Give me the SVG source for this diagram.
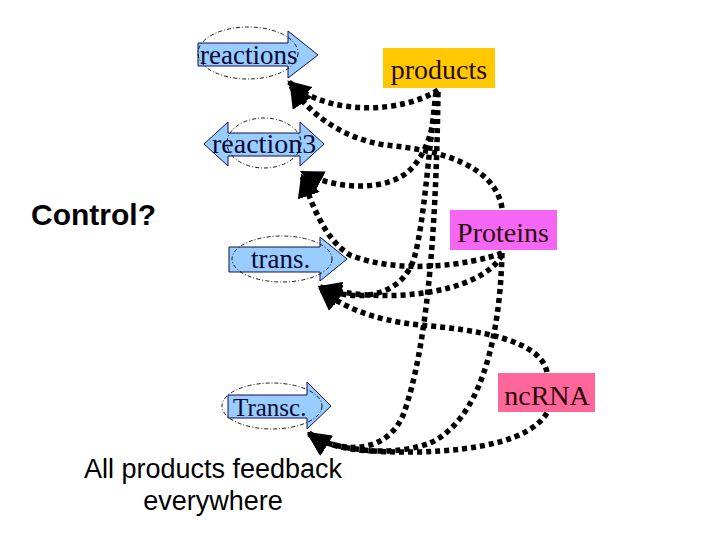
<svg xmlns="http://www.w3.org/2000/svg" width="720" height="540" viewBox="0 0 720 540">
<defs>
<style>
.blk{fill:#99CCFF;stroke:#10104a;stroke-width:1}
.ell{fill:none;stroke:#000;stroke-width:0.9;stroke-dasharray:4 2 1 2}
.lbl{font-family:"Liberation Serif",serif;fill:#0a0a30}
.box{font-family:"Liberation Serif",serif;font-size:28px;fill:#2a0a0a}
.sans{font-family:"Liberation Sans",Arial,sans-serif;fill:#000}
.con{fill:none;stroke:#000;stroke-width:5.5;stroke-dasharray:5 4}
</style>
<marker id="ah" viewBox="0 0 10 10" refX="9" refY="5" markerWidth="4.2" markerHeight="4.2" orient="auto" markerUnits="strokeWidth">
<path d="M0,0 L10,5 L0,10 z" fill="#000"/>
</marker>
</defs>
<rect width="720" height="540" fill="#fff"/>

<g id="connectors">
<path class="con" marker-end="url(#ah)" d="M438,90 C405,112 330,118 289,82"/>
<path class="con" marker-end="url(#ah)" d="M502,208 C495,165 440,150 385,145 C340,138 308,112 291,86"/>
<path class="con" marker-end="url(#ah)" d="M437,92 C435,120 430,150 410,170 C390,190 340,192 302,172"/>
<path class="con" marker-end="url(#ah)" d="M502,253 C470,265 400,275 350,255 C325,240 312,205 302,176"/>
<path class="con" marker-end="url(#ah)" d="M436,92 C428,160 424,220 415,255 C405,295 360,305 320,287"/>
<path class="con" marker-end="url(#ah)" d="M502,255 C480,295 380,305 320,287"/>
<path class="con" marker-end="url(#ah)" d="M547,372 C540,340 480,330 420,325 C370,320 340,305 320,289"/>
<path class="con" marker-end="url(#ah)" d="M438,92 C436,250 425,350 405,410 C390,455 340,455 309,433"/>
<path class="con" marker-end="url(#ah)" d="M502,253 C500,340 480,420 430,443 C400,455 340,455 309,434"/>
<path class="con" marker-end="url(#ah)" d="M547,413 C530,440 480,450 420,452 C370,453 330,448 309,435"/>
</g>

<g id="reactions">
<polygon class="blk" points="198,43 288,43 288,31 318,55 288,78 288,66 198,66"/>
<ellipse class="ell" cx="248" cy="53" rx="50" ry="26"/>
<text class="lbl" x="200" y="64" font-size="27">reactions</text>
</g>

<g id="reaction3">
<polygon class="blk" points="204,144 228,122 228,133 300,133 300,122 324,144 300,166 300,156 228,156 228,166"/>
<ellipse class="ell" cx="264" cy="143" rx="37" ry="25"/>
<text class="lbl" x="212" y="153" font-size="28">reaction3</text>
</g>

<g id="trans">
<polygon class="blk" points="229,247 320,247 320,237 347,259 320,281 320,272 229,272"/>
<ellipse class="ell" cx="282" cy="259" rx="50" ry="23"/>
<text class="lbl" x="251" y="268" font-size="27">trans.</text>
</g>

<g id="transc">
<polygon class="blk" points="228,395 307,395 307,382 331,406 307,429 307,418 228,418"/>
<ellipse class="ell" cx="272" cy="406" rx="50" ry="23"/>
<text class="lbl" x="233" y="416" font-size="25">Transc.</text>
</g>

<g id="products">
<rect x="383" y="48" width="112" height="40" fill="#FFC800"/>
<text class="box" x="439" y="79" text-anchor="middle">products</text>
</g>

<g id="proteins">
<rect x="450" y="210" width="107" height="40" fill="#F566F5"/>
<text class="box" x="503" y="242" text-anchor="middle">Proteins</text>
</g>

<g id="ncrna">
<rect x="498" y="373" width="97" height="39" fill="#FF6699"/>
<text class="box" x="547" y="405" text-anchor="middle">ncRNA</text>
</g>

<g id="control">
<text class="sans" x="31" y="225" font-size="30" font-weight="bold">Control?</text>
</g>

<g id="caption">
<text class="sans" x="213" y="478" font-size="27" text-anchor="middle">All products feedback</text>
<text class="sans" x="213" y="510" font-size="27" text-anchor="middle">everywhere</text>
</g>
</svg>
